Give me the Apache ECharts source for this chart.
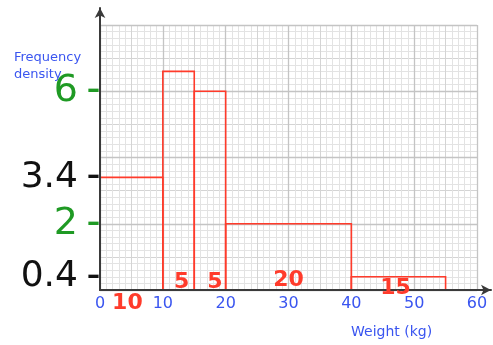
<!DOCTYPE html>
<html>
<head>
<meta charset="utf-8">
<script src="https://cdn.jsdelivr.net/npm/echarts@6/dist/echarts.min.js"></script>
<style>
  html, body { margin: 0; padding: 0; background: #fff; }
  #chart { width: 493px; height: 345px; }
</style>
</head>
<body>
<div id="chart"></div>
<script>
// Histogram of weights: class widths (kg) and frequency densities
const classWidths = [10, 5, 5, 20, 15];
const densities = [3.4, 6.6, 6, 2, 0.4];
// Axis ranges / labelled values
const xTicks = [0, 10, 20, 30, 40, 50, 60];
const yRange = [0, 8];
const yMarks = [0.4, 2, 3.4, 6];

// Styling helpers (not data)
const yMarkTone = { 0.4: 'k', 2: 'g', 3.4: 'k', 6: 'g' };
const widthLabelOffsets = [[-4, 13], [3, -8], [5, -8], [0, -10], [-3, -2]];

// Build bins from the class widths
const bins = [];
let start = xTicks[0];
classWidths.forEach((w, i) => {
  bins.push([start, start + w, densities[i], w, i]);
  start += w;
});

const BLUE = '#3a55f0';
const RED = '#ff3b2b';
const UI_FONT = 'DejaVu Sans';

const chart = echarts.init(document.getElementById('chart'), null, { renderer: 'canvas' });

const hidden = {
  axisLine: { show: false }, axisTick: { show: false }, axisLabel: { show: false }
};

chart.setOption({
  animation: false,
  backgroundColor: '#fff',
  title: [
    { text: 'Frequency\ndensity', left: 9, top: 44,
      textStyle: { color: BLUE, fontSize: 13, fontWeight: 'normal', fontFamily: UI_FONT, lineHeight: 17 } },
    { text: 'Weight (kg)', left: 346, top: 320,
      textStyle: { color: BLUE, fontSize: 14, fontWeight: 'normal', fontFamily: UI_FONT } }
  ],
  grid: [
    { left: 100, right: 16, top: 25, bottom: 55, outerBoundsMode: 'none', containLabel: false },
    { left: 100, right: 2, top: 8, bottom: 55, outerBoundsMode: 'none', containLabel: false }
  ],
  xAxis: [
    { // major lines every 10 + labels
      type: 'value', gridIndex: 0, position: 'bottom', min: xTicks[0], max: xTicks[xTicks.length - 1], interval: 10, z: 2,
      axisLine: { show: false }, axisTick: { show: false },
      axisLabel: { color: BLUE, fontSize: 16, fontFamily: UI_FONT, margin: 6 },
      splitLine: { show: true, lineStyle: { color: '#c4c4c4', width: 1.3 } }
    },
    { // medium lines every 5, minor every 1
      type: 'value', gridIndex: 0, position: 'bottom', min: xTicks[0], max: xTicks[xTicks.length - 1], interval: 5, z: 1,
      ...hidden,
      splitLine: { show: true, lineStyle: { color: '#d4d4d4', width: 1 } },
      minorTick: { show: false, splitNumber: 5 },
      minorSplitLine: { show: true, lineStyle: { color: '#e3e3e3', width: 1 } }
    },
    { // axis line with arrow
      type: 'value', gridIndex: 1, position: 'bottom', min: 0, max: 1, z: 5,
      axisLine: { show: true, symbol: ['none', 'arrow'], symbolSize: [8, 10],
        lineStyle: { color: '#3a3a3a', width: 2 } },
      axisTick: { show: false }, axisLabel: { show: false }, splitLine: { show: false }
    }
  ],
  yAxis: [
    { // major lines every 2
      type: 'value', gridIndex: 0, position: 'left', min: yRange[0], max: yRange[1], interval: 2, z: 2,
      ...hidden,
      splitLine: { show: true, lineStyle: { color: '#c4c4c4', width: 1.3 } }
    },
    { // medium lines every 1, minor every 0.2
      type: 'value', gridIndex: 0, position: 'left', min: yRange[0], max: yRange[1], interval: 1, z: 1,
      ...hidden,
      splitLine: { show: true, lineStyle: { color: '#d4d4d4', width: 1 } },
      minorTick: { show: false, splitNumber: 5 },
      minorSplitLine: { show: true, lineStyle: { color: '#e3e3e3', width: 1 } }
    },
    { // marked frequency-density values
      type: 'value', gridIndex: 0, position: 'left', offset: 0, min: yRange[0], max: yRange[1], z: 6,
      axisLine: { show: false }, axisTick: { show: false }, splitLine: { show: false },
      axisLabel: {
        show: true, margin: 0, customValues: yMarks,
        formatter: (v) => {
          const t = yMarkTone[v] || 'k';
          return '{' + t + '|' + v + '}{' + t + 'd| –}';
        },
        rich: {
          g: { color: '#1f9a24', fontSize: 38, fontFamily: UI_FONT },
          gd: { color: '#1f9a24', fontSize: 26, fontWeight: 'bold', fontFamily: UI_FONT },
          k: { color: '#111', fontSize: 36, fontFamily: UI_FONT },
          kd: { color: '#111', fontSize: 26, fontWeight: 'bold', fontFamily: UI_FONT }
        }
      }
    },
    { // axis line with arrow
      type: 'value', gridIndex: 1, position: 'left', min: 0, max: 1, z: 5,
      axisLine: { show: true, symbol: ['none', 'arrow'], symbolSize: [8, 10],
        lineStyle: { color: '#3a3a3a', width: 2 } },
      axisTick: { show: false }, axisLabel: { show: false }, splitLine: { show: false }
    }
  ],
  series: [
    { // histogram bars (outline only)
      type: 'custom', xAxisIndex: 0, yAxisIndex: 0, z: 3,
      data: bins,
      renderItem: (params, api) => {
        const p0 = api.coord([api.value(0), 0]);
        const p1 = api.coord([api.value(1), api.value(2)]);
        return {
          type: 'rect',
          shape: { x: p0[0], y: p1[1], width: p1[0] - p0[0], height: p0[1] - p1[1] },
          style: { fill: 'none', stroke: RED, lineWidth: 1.6 }
        };
      }
    },
    { // class-width annotations
      type: 'custom', xAxisIndex: 0, yAxisIndex: 0, z: 7,
      data: bins,
      renderItem: (params, api) => {
        const mid = (api.value(0) + api.value(1)) / 2;
        const p = api.coord([mid, 0]);
        const off = widthLabelOffsets[api.value(4)];
        return {
          type: 'text',
          x: p[0] + off[0], y: p[1] + off[1],
          style: {
            text: String(api.value(3)), fill: RED,
            font: '600 22px "DejaVu Sans"', align: 'center', verticalAlign: 'middle'
          }
        };
      }
    }
  ]
});
</script>
</body>
</html>
